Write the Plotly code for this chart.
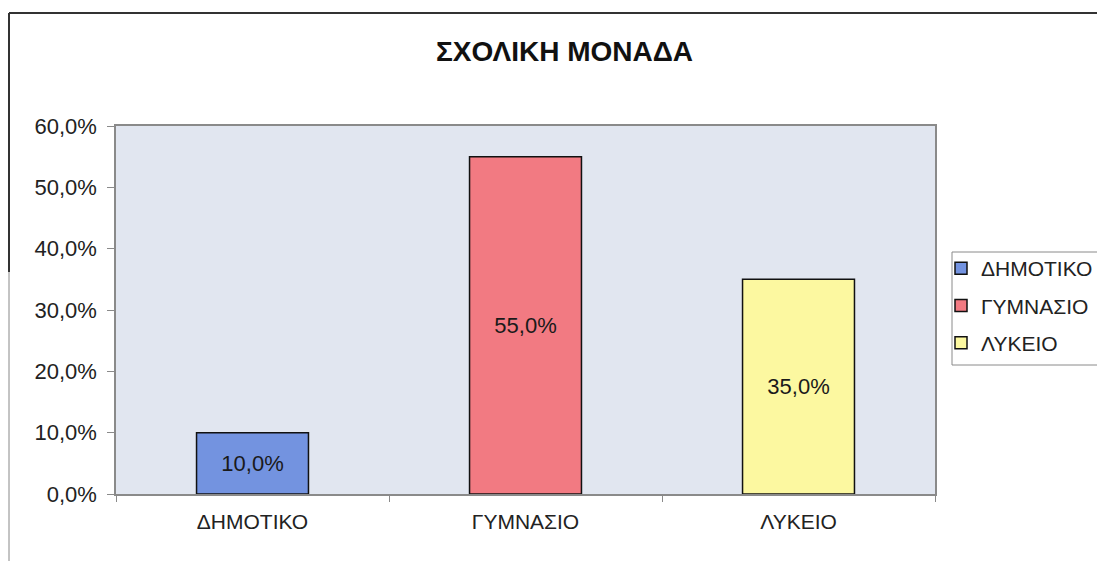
import plotly.graph_objects as go

categories = ["ΔΗΜΟΤΙΚΟ", "ΓΥΜΝΑΣΙΟ", "ΛΥΚΕΙΟ"]
values = [0.10, 0.55, 0.35]
colors = ["#7393e0", "#f27a82", "#fcf8a0"]
title_text = "ΣΧΟΛΙΚΗ ΜΟΝΑΔΑ"
y_ticks = [0, 0.1, 0.2, 0.3, 0.4, 0.5, 0.6]

OFF = 8  # page body margin
W, H = 1105 - OFF, 561 - OFF
L, T = 116 - OFF, 126 - OFF
pw, ph = 935 - 116, 494 - 126
R = W - L - pw
B = H - T - ph

def px(x):
    return (x - OFF - L) / pw

def py(y):
    return (T + ph - (y - OFF)) / ph

FONT = "Liberation Sans"
fig = go.Figure()
for cat, val, col in zip(categories, values, colors):
    fig.add_trace(go.Bar(
        x=[cat], y=[val], name=cat, width=0.41, legendgroup=cat,
        marker=dict(color=col, line=dict(color="#111111", width=1.5)),
        text=[f"{val*100:.1f}%".replace(".", ",")],
        textposition="inside", insidetextanchor="middle",
        textfont=dict(family=FONT, size=22, color="#1a1a1a"),
        textangle=0,
    ))

fig.update_layout(
    width=W, height=H,
    margin=dict(l=L, r=R, t=T, b=B, autoexpand=False),
    barmode="overlay",
    separators=",.",
    paper_bgcolor="white",
    plot_bgcolor="#e1e6f0",
    font=dict(family=FONT, size=22, color="#222222"),
    showlegend=True,
    legend=dict(
        x=px(941), y=py(248), xanchor="left", yanchor="top",
        borderwidth=0, bgcolor="rgba(0,0,0,0)",
        font=dict(family=FONT, size=21, color="#222222"),
        itemwidth=30, tracegroupgap=7,
    ),
    annotations=[dict(
        text=title_text, xref="paper", yref="paper",
        x=px(564), y=py(51), xanchor="center", yanchor="middle",
        showarrow=False,
        font=dict(family=FONT, size=28, color="#111111", weight="bold"),
    )],
    shapes=[
        dict(type="rect", xref="paper", yref="paper", layer="below",
             x0=px(952), x1=px(1115), y0=py(365), y1=py(252),
             line=dict(color="#8a8a8a", width=1), fillcolor="white"),
        dict(type="line", xref="paper", yref="paper",
             x0=px(9), x1=px(1105), y0=py(13), y1=py(13),
             line=dict(color="#333333", width=2)),
        dict(type="line", xref="paper", yref="paper",
             x0=px(9), x1=px(9), y0=py(13), y1=py(272),
             line=dict(color="#333333", width=2)),
        dict(type="line", xref="paper", yref="paper",
             x0=px(9), x1=px(9), y0=py(272), y1=py(561),
             line=dict(color="#888888", width=1)),
    ],
)

fig.update_yaxes(
    range=[0, 0.6], tickvals=y_ticks, tickformat=".1%",
    showgrid=False, zeroline=False,
    showline=True, linecolor="#8a8a8a", linewidth=1.5, mirror=True,
    ticks="outside", ticklen=7, tickcolor="#8a8a8a", ticklabelstandoff=6,
    tickfont=dict(size=22, color="#222222"),
)
fig.update_xaxes(
    showgrid=False, showline=True, linecolor="#8a8a8a", linewidth=1.5, mirror=True,
    ticks="outside", ticklen=6, tickcolor="#8a8a8a", tickson="boundaries",
    ticklabelstandoff=8,
    tickfont=dict(size=21, color="#222222"),
)

fig.write_html("out.html")
